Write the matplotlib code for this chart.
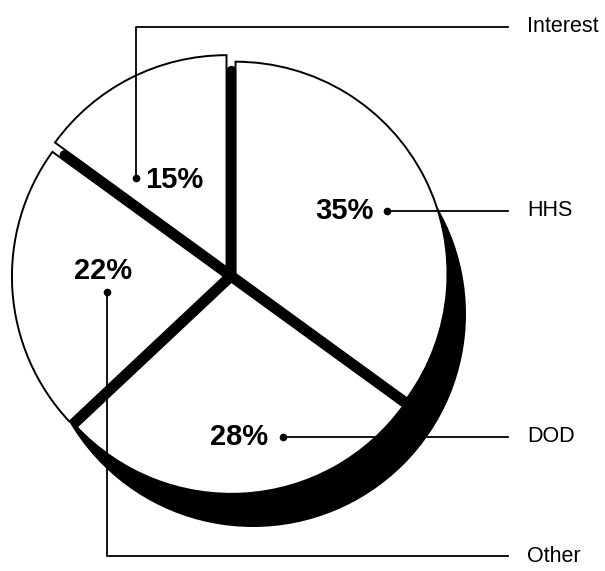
import numpy as np
import matplotlib.pyplot as plt
from matplotlib.patches import Circle, Wedge

# budget shares, counter-clockwise from 12 o'clock
labels = ['Interest', 'Other', 'DOD', 'HHS']
shares = [15, 22, 28, 35]

W, H = 605, 571
fig = plt.figure(figsize=(W / 100, H / 100), dpi=100)
ax = fig.add_axes([0, 0, 1, 1])

cx, cy = 231, H - 276
r = 212
gap = 9
half = np.deg2rad(np.array(shares) * 3.6 / 2)
explode = gap / (2 * np.sin(half))

# black drop shadow under the lower right part of the pie
sh = Circle((cx + 22, cy - 38), r + 1, facecolor='black', edgecolor='none', zorder=0.5)
ax.add_patch(sh)
sh.set_clip_path(Wedge((cx, cy), 1000, 222, 400, transform=ax.transData))

wedges, _ = ax.pie(shares, startangle=90, counterclock=True, radius=r,
                   center=(cx, cy), explode=explode, frame=True,
                   wedgeprops=dict(facecolor='white', edgecolor='black', linewidth=1.4))

# thick separators between the slices
bounds = 90 + np.concatenate([[0], np.cumsum(shares)[:-1]]) * 3.6
for a in np.deg2rad(bounds):
    ax.plot([cx, cx + (r - 6) * np.cos(a)], [cy, cy + (r - 6) * np.sin(a)],
            color='black', lw=6.8, solid_capstyle='round', zorder=3)

# leader lines: dot, path, percent label position (pixel coords, y down)
leaders = {
    'Interest': dict(path=[(136, 178), (136, 27), (508, 27)], pct=(145, 180, 'left')),
    'Other': dict(path=[(107, 292), (107, 556), (508, 556)], pct=(103, 271, 'center')),
    'DOD': dict(path=[(283, 437), (508, 437)], pct=(268, 437, 'right')),
    'HHS': dict(path=[(387, 211), (508, 211)], pct=(374, 211, 'right')),
}

for name, v in zip(labels, shares):
    d = leaders[name]
    xs = [p[0] for p in d['path']]
    ys = [H - p[1] for p in d['path']]
    ax.plot(xs, ys, color='black', lw=1.3, zorder=4)
    ax.plot(xs[0], ys[0], 'o', color='black', ms=4.5, zorder=4)
    px, py, ha = d['pct']
    ax.text(px, H - py, f'{v}%', ha=ha, va='center', fontsize=21, fontweight='bold',
            family='Liberation Sans', zorder=5)
    ax.text(527, ys[-1], name, ha='left', va='center', fontsize=15.5,
            family='Liberation Sans', zorder=5)

ax.set_xlim(0, W)
ax.set_ylim(0, H)
ax.set_aspect('equal')
ax.axis('off')

fig.savefig('out.png', dpi=100, facecolor='white')
